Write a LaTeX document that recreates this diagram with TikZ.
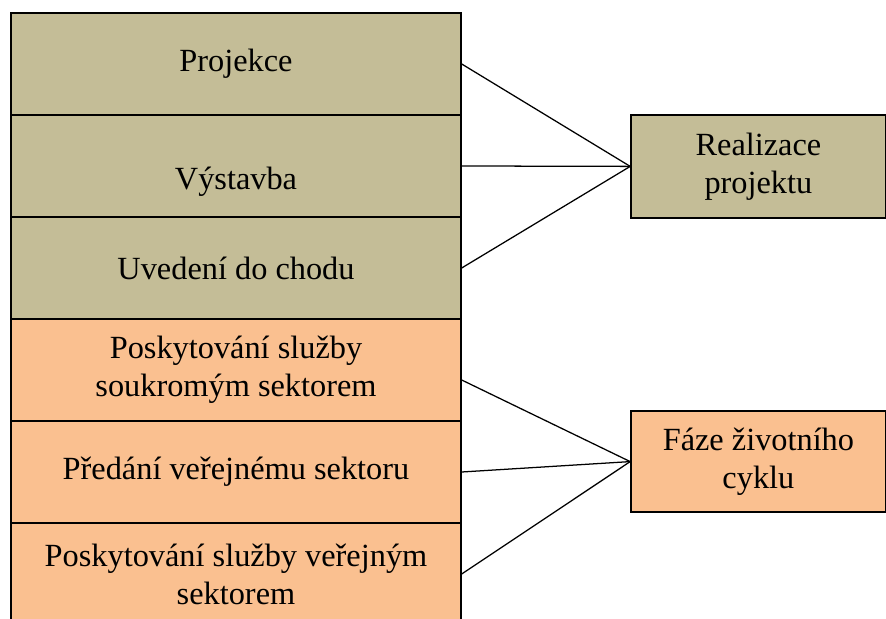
\documentclass[tikz,border=0pt]{standalone}
\usepackage{fontspec}
\setmainfont{Liberation Serif}
\definecolor{tan}{HTML}{C4BD97}
\definecolor{peach}{HTML}{FAC090}
\begin{document}
\begin{tikzpicture}[
    phase/.style={draw, line width=1pt, minimum width=11.25cm, minimum height=2.55cm,
      align=center, font=\fontsize{23}{27}\selectfont},
    group/.style={draw, line width=1pt, minimum width=6.375cm, minimum height=2.55cm,
      align=center, font=\fontsize{23}{27}\selectfont},
    link/.style={line width=0.9pt}
  ]
  \useasboundingbox (0,0) rectangle (22.15,15.45);
  \node[phase, fill=tan] (projekce) at (5.9,13.85) {Projekce};
  \node[phase, fill=tan, text height=1.4cm, text depth=0.2cm] (vystavba) at (5.9,11.3) {Výstavba};
  \node[phase, fill=tan] (uvedeni) at (5.9,8.75) {Uvedení do chodu};
  \node[phase, fill=peach] (soukromy) at (5.9,6.2) {Poskytování služby\\soukromým sektorem};
  \node[phase, fill=peach] (predani) at (5.9,3.65) {Předání veřejnému sektoru};
  \node[phase, fill=peach] (verejny) at (5.9,1.1) {Poskytování služby veřejným\\sektorem};
  \node[group, fill=tan, minimum height=2.575cm] (realizace) at (18.96,11.29) {Realizace\\projektu};
  \node[group, fill=peach, minimum height=2.525cm] (cyklus) at (18.96,3.91) {Fáze životního\\cyklu};
  \draw[link] (projekce.east) -- (realizace.west);
  \draw[link] (vystavba.east) -- (realizace.west);
  \draw[link] (uvedeni.east) -- (realizace.west);
  \draw[link] ([yshift=-0.25cm]soukromy.east) -- (cyklus.west);
  \draw[link] (predani.east) -- (cyklus.west);
  \draw[link] (verejny.east) -- (cyklus.west);
\end{tikzpicture}
\end{document}
